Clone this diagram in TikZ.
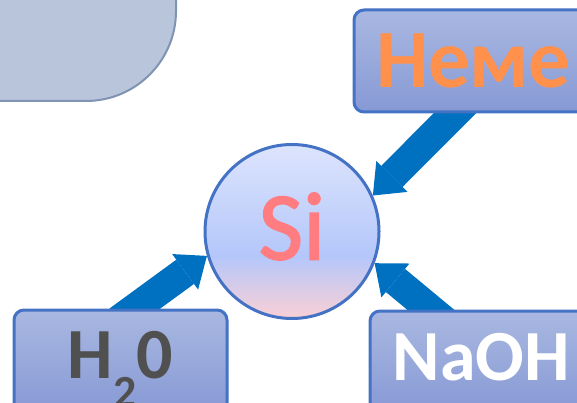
\documentclass[tikz,border=0pt]{standalone}
\usepackage{fontspec}
\setmainfont{Carlito}
\newfontfamily\elementfont[FakeBold=1.6]{Carlito}
\usetikzlibrary{arrows.meta,backgrounds,calc}

\definecolor{panelfill}{HTML}{B9C5DB}
\definecolor{panelline}{HTML}{7F94B2}
\definecolor{boxtop}{HTML}{A9B8E1}
\definecolor{boxbottom}{HTML}{8799D5}
\definecolor{boxline}{HTML}{4472C4}
\definecolor{arrowblue}{HTML}{0070C0}
\definecolor{sitext}{HTML}{FF7C80}
\definecolor{nemetext}{HTML}{FF914D}
\definecolor{watertext}{HTML}{505050}
\definecolor{circtop}{HTML}{DDE4FC}
\definecolor{circmid}{HTML}{B4C7FB}
\definecolor{circbottom}{HTML}{FAD0D5}

% lavender top, blue middle, pink bottom
\pgfdeclareverticalshading{sishade}{100bp}{color(0bp)=(circbottom); color(25bp)=(circbottom); color(43bp)=(circmid); color(75bp)=(circtop); color(100bp)=(circtop)}

\tikzset{
  panel/.style={draw=panelline, line width=2pt, fill=panelfill, rounded corners=90pt},
  reagent/.style={draw=boxline, line width=3pt, rounded corners=10pt,
    top color=boxtop, bottom color=boxbottom, inner sep=0pt,
    font=\fontsize{72}{72}\selectfont\bfseries},
  element/.style={circle, draw=boxline, line width=3pt, shade, shading=sishade,
    minimum size=174pt, inner sep=0pt, text=sitext,
    font=\fontsize{97}{97}\elementfont},
  flow/.style={arrowblue, line width=30pt,
    -{Triangle[width=44pt,length=27pt,line width=0pt]}},
}

\begin{document}
\begin{tikzpicture}[x=1pt,y=-1pt]
\useasboundingbox (0,0) rectangle (577,403);
\clip (0,0) rectangle (577,403);

% corner panel
\draw[panel] (-120,-120) rectangle (176,101);

% central element
\node[element, text height=61pt, text depth=5pt] (si) at (292,231.5) {Si};

% reagents
\node[reagent, minimum width=239pt, minimum height=102pt, text=nemetext,
      font=\fontsize{83}{83}\selectfont\bfseries,
      text height=54pt, text depth=0pt] (neme) at (473.5,61) {Неме};
\node[reagent, minimum width=213pt, minimum height=103pt, text=watertext,
      text height=45pt, text depth=12pt] (water) at (120.5,361.5)
      {H\raisebox{-29pt}{\fontsize{46}{46}\selectfont 2}0};
\node[reagent, minimum width=223pt, minimum height=102pt, text=white,
      text height=46pt, text depth=10pt] (naoh) at (481.5,362) {NaOH};

% reaction arrows, behind the boxes
\begin{scope}[on background layer]
  \draw[flow] ($(neme.south west)+(122,-20)$) -- (si.24);
  \draw[flow] ($(water.north west)+(106,12)$) -- (si.196);
  \draw[flow] ($(naoh.north west)+(77,12.5)$) -- (si.-21);
\end{scope}
\end{tikzpicture}
\end{document}
